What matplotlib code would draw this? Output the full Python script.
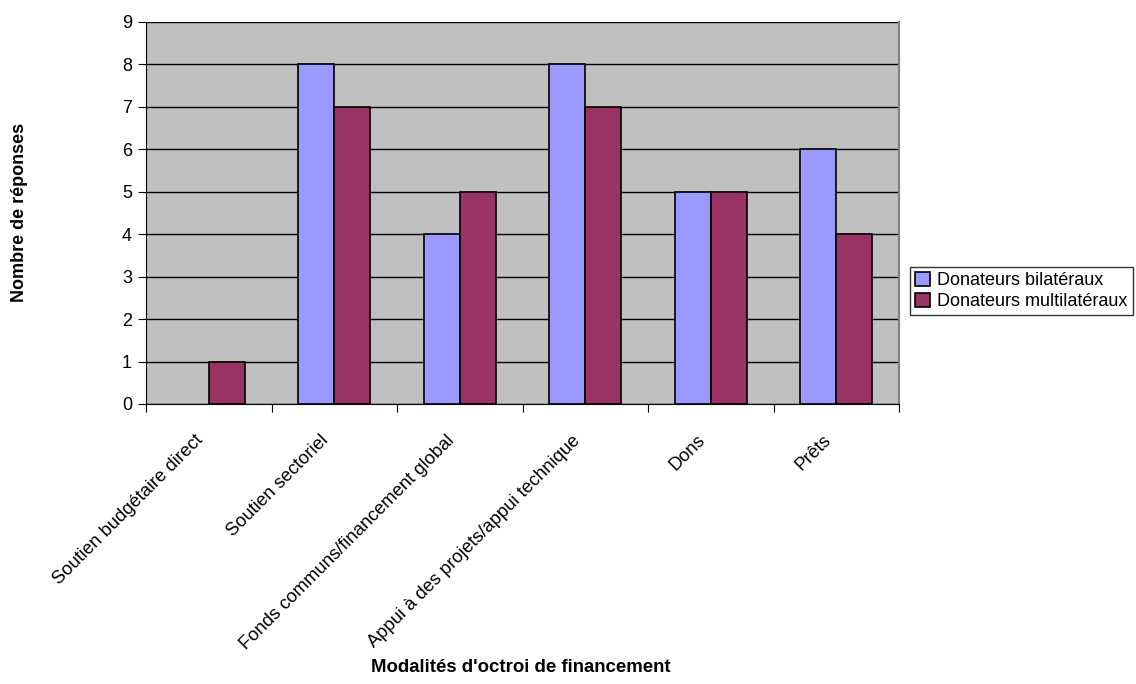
import matplotlib
matplotlib.use('Agg')
import matplotlib.pyplot as plt
import matplotlib.transforms as mtransforms
from matplotlib.patches import Patch
import numpy as np

plt.rcParams["font.family"] = ["Liberation Sans", "DejaVu Sans"]

# ================== 数据 ==================
categories = ["Soutien budgétaire direct", "Soutien sectoriel",
              "Fonds communs/financement global",
              "Appui à des projets/appui technique", "Dons", "Prêts"]
bilateraux = [0, 8, 4, 8, 5, 6]
multilateraux = [1, 7, 5, 7, 5, 4]
series_names = ["Donateurs bilatéraux", "Donateurs multilatéraux"]
colors = ['#9999FF', '#993366']

# ================== 绘图 ==================
fig = plt.figure(figsize=(11.36, 6.84), dpi=100)
ax = fig.add_axes([146/1136, 1-404/684, 753/1136, 382/684])
ax.set_facecolor('#C0C0C0')

x = np.arange(len(categories))
w = 1/3.5
b1 = ax.bar(x - w/2, bilateraux, w, color=colors[0], edgecolor='black', linewidth=1.2, zorder=3)
b2 = ax.bar(x + w/2, multilateraux, w, color=colors[1], edgecolor='black', linewidth=1.2, zorder=3)
# 零值柱不画
for p in list(b1) + list(b2):
    if p.get_height() == 0:
        p.set_visible(False)

ax.set_xlim(-0.5, len(categories) - 0.5)
ax.set_ylim(0, 9)
ax.set_yticks(range(10))
ax.yaxis.grid(True, color='black', linewidth=1, zorder=1)
ax.set_axisbelow(True)

ax.set_xticks(np.arange(len(categories) + 1) - 0.5, minor=False)
ax.set_xticklabels([])
ax.set_xticks(x, minor=True)
ax.set_xticklabels(categories, minor=True, rotation=45, ha='right',
                   rotation_mode='anchor', fontsize=13.2)
ax.tick_params(axis='x', which='minor', length=0, pad=20)
ax.tick_params(axis='x', which='major', length=6, direction='out', color='black')
ax.tick_params(axis='y', length=6, direction='out', labelsize=13, pad=4)

# 标签整体左移一点
offset = mtransforms.ScaledTranslation(-14/100, 0, fig.dpi_scale_trans)
for lbl in ax.get_xticklabels(minor=True):
    lbl.set_transform(lbl.get_transform() + offset)

ax.spines['top'].set_visible(False)
ax.spines['right'].set_color('#808080')
ax.spines['right'].set_linewidth(1.5)
ax.spines['left'].set_color('black')
ax.spines['bottom'].set_color('black')

fig.text(20/1136, 1-212/684, "Nombre de réponses", rotation=90, ha='center',
         va='center', fontsize=13, fontweight='bold')
fig.text(521/1136, 1-667/684, "Modalités d'octroi de financement", ha='center',
         va='center', fontsize=13.4, fontweight='bold')

handles = [Patch(facecolor=c, edgecolor='black', linewidth=1.2) for c in colors]
leg = fig.legend(handles, series_names, loc='center left',
                 bbox_to_anchor=(910/1136, 1-291/684),
                 fontsize=13, frameon=True, fancybox=False, edgecolor='black',
                 handlelength=0.8, handleheight=0.8, handletextpad=0.4,
                 borderpad=0.3, labelspacing=0.2, borderaxespad=0)
leg.get_frame().set_linewidth(1)

fig.savefig('out.png', dpi=100)
